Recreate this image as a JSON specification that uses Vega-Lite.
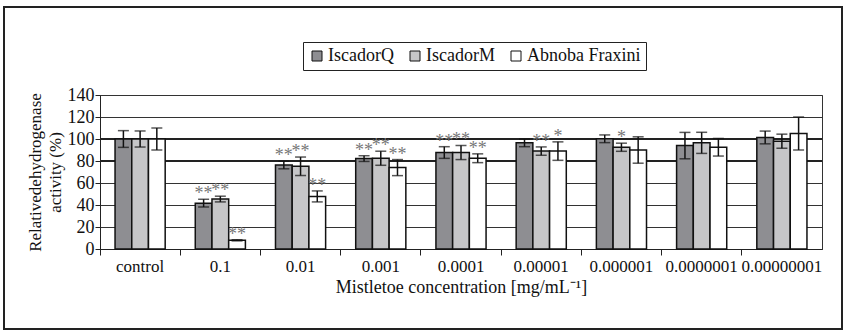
{
  "$schema": "https://vega.github.io/schema/vega-lite/v6.json",
  "width": 722,
  "height": 154,
  "autosize": "none",
  "padding": {"left": 100, "top": 95, "right": 23, "bottom": 85},
  "background": "white",
  "config": {
    "font": "Liberation Serif",
    "axis": {"labelFont": "Liberation Serif", "titleFont": "Liberation Serif"},
    "axisY": {
      "tickCount": 7, "labelOverlap": false,
      "titleFontSize": 17, "titleFontWeight": "normal", "titleColor": "#111", "titlePadding": 3,
      "titleLineHeight": 20,
      "labelFontSize": 18, "labelColor": "#111", "labelPadding": 1,
      "tickSize": 5, "tickColor": "#222", "domainColor": "#222",
      "grid": true, "gridColor": "#333", "gridWidth": 1.2
    },
    "legend": {"labelFont": "Liberation Serif"},
    "text": {"font": "Liberation Serif"},
    "view": {"stroke": "#333", "strokeWidth": 1}
  },
  "datasets": {
    "main": [
      {"conc": "control", "group": "IscadorQ", "value": 100, "lo": 92.4, "hi": 107.6, "sig": ""},
      {"conc": "control", "group": "IscadorM", "value": 100, "lo": 92.7, "hi": 107.3, "sig": ""},
      {"conc": "control", "group": "Abnoba Fraxini", "value": 100, "lo": 90, "hi": 110, "sig": ""},
      {"conc": "0.1", "group": "IscadorQ", "value": 41.7, "lo": 38.2, "hi": 45.2, "sig": "**"},
      {"conc": "0.1", "group": "IscadorM", "value": 45.4, "lo": 42.8, "hi": 48, "sig": "**"},
      {"conc": "0.1", "group": "Abnoba Fraxini", "value": 7.9, "lo": 7.4, "hi": 8.4, "sig": "**"},
      {"conc": "0.01", "group": "IscadorQ", "value": 76.4, "lo": 72.9, "hi": 79.9, "sig": "**"},
      {"conc": "0.01", "group": "IscadorM", "value": 75.2, "lo": 66.8, "hi": 83.6, "sig": "**"},
      {"conc": "0.01", "group": "Abnoba Fraxini", "value": 47.8, "lo": 42.8, "hi": 52.8, "sig": "**"},
      {"conc": "0.001", "group": "IscadorQ", "value": 82.2, "lo": 79.6, "hi": 84.8, "sig": "**"},
      {"conc": "0.001", "group": "IscadorM", "value": 82.5, "lo": 76.1, "hi": 88.9, "sig": "**"},
      {"conc": "0.001", "group": "Abnoba Fraxini", "value": 74, "lo": 66.7, "hi": 81.3, "sig": "**"},
      {"conc": "0.0001", "group": "IscadorQ", "value": 87.7, "lo": 82.4, "hi": 93, "sig": "**"},
      {"conc": "0.0001", "group": "IscadorM", "value": 87.7, "lo": 81.3, "hi": 94.1, "sig": "**"},
      {"conc": "0.0001", "group": "Abnoba Fraxini", "value": 82.5, "lo": 78.5, "hi": 86.5, "sig": "**"},
      {"conc": "0.00001", "group": "IscadorQ", "value": 96.5, "lo": 93, "hi": 100, "sig": ""},
      {"conc": "0.00001", "group": "IscadorM", "value": 89, "lo": 85.2, "hi": 92.8, "sig": "**"},
      {"conc": "0.00001", "group": "Abnoba Fraxini", "value": 89, "lo": 80.6, "hi": 97.4, "sig": "*"},
      {"conc": "0.000001", "group": "IscadorQ", "value": 100.2, "lo": 96.7, "hi": 103.7, "sig": ""},
      {"conc": "0.000001", "group": "IscadorM", "value": 92.5, "lo": 88.8, "hi": 96.2, "sig": "*"},
      {"conc": "0.000001", "group": "Abnoba Fraxini", "value": 90, "lo": 78, "hi": 102, "sig": ""},
      {"conc": "0.0000001", "group": "IscadorQ", "value": 94, "lo": 82, "hi": 106, "sig": ""},
      {"conc": "0.0000001", "group": "IscadorM", "value": 96.5, "lo": 86.9, "hi": 106.1, "sig": ""},
      {"conc": "0.0000001", "group": "Abnoba Fraxini", "value": 92.5, "lo": 84.5, "hi": 100.5, "sig": ""},
      {"conc": "0.00000001", "group": "IscadorQ", "value": 101.4, "lo": 95.6, "hi": 107.2, "sig": ""},
      {"conc": "0.00000001", "group": "IscadorM", "value": 98, "lo": 91.6, "hi": 104.4, "sig": ""},
      {"conc": "0.00000001", "group": "Abnoba Fraxini", "value": 105, "lo": 90, "hi": 120, "sig": ""}
    ],
    "refs": [{"ref": 80}, {"ref": 100}],
    "frame": [{"f": 1}]
  },
  "layer": [
    {
      "data": {"name": "refs"},
      "mark": {"type": "rule", "stroke": "#222", "strokeWidth": 2.2},
      "encoding": {"y": {"field": "ref", "type": "quantitative"}}
    },
    {
      "data": {"name": "main"},
      "encoding": {
        "x": {
          "field": "conc", "type": "nominal",
          "sort": ["control", "0.1", "0.01", "0.001", "0.0001", "0.00001", "0.000001", "0.0000001", "0.00000001"],
          "scale": {"paddingInner": 0, "paddingOuter": 0},
          "axis": {
            "labelAngle": 0, "labelFontSize": 17, "labelColor": "#111", "labelPadding": 3, "labelOverlap": false,
            "title": "Mistletoe concentration [mg/mL⁻¹]", "titleFontSize": 18, "titleFontWeight": "normal",
            "titleColor": "#111", "titlePadding": 4,
            "bandPosition": 0, "tickSize": 6, "tickColor": "#222", "domainColor": "#222", "grid": false
          }
        },
        "xOffset": {
          "field": "group", "type": "nominal",
          "sort": ["IscadorQ", "IscadorM", "Abnoba Fraxini"],
          "scale": {"paddingInner": 0, "paddingOuter": 0.9}
        }
      },
      "layer": [
        {
          "mark": {"type": "bar", "stroke": "#111", "strokeWidth": 1.5},
          "encoding": {
            "y": {
              "field": "value", "type": "quantitative",
              "scale": {"domain": [0, 140], "nice": false},
              "axis": {"title": ["Relativedehydrogenase", "activity (%)"]}
            },
            "fill": {
              "field": "group", "type": "nominal",
              "sort": ["IscadorQ", "IscadorM", "Abnoba Fraxini"],
              "scale": {"domain": ["IscadorQ", "IscadorM", "Abnoba Fraxini"], "range": ["#8e8e92", "#c6c6c8", "#ffffff"]},
              "legend": {
                "orient": "none", "legendX": 203, "legendY": -53, "direction": "horizontal",
                "title": null, "strokeColor": "#222", "padding": 5,
                "symbolType": "square", "symbolSize": 100, "symbolStrokeColor": "#111", "symbolStrokeWidth": 1,
                "labelFontSize": 18, "labelColor": "#111", "columnPadding": 12, "labelOffset": 2
              }
            }
          }
        },
        {
          "mark": {"type": "rule", "stroke": "#111", "strokeWidth": 1.5},
          "encoding": {
            "y": {"field": "lo", "type": "quantitative"},
            "y2": {"field": "hi"}
          }
        },
        {
          "mark": {"type": "tick", "color": "#111", "thickness": 1.5, "size": 11},
          "encoding": {"y": {"field": "lo", "type": "quantitative"}}
        },
        {
          "mark": {"type": "tick", "color": "#111", "thickness": 1.5, "size": 11},
          "encoding": {"y": {"field": "hi", "type": "quantitative"}}
        },
        {
          "mark": {"type": "text", "font": "Liberation Serif", "fontSize": 18, "fill": "#777", "baseline": "alphabetic", "dy": 0},
          "encoding": {
            "y": {"field": "hi", "type": "quantitative"},
            "text": {"field": "sig"}
          }
        }
      ]
    },
    {
      "data": {"name": "frame"},
      "mark": {"type": "rect", "fill": null, "stroke": "#222", "strokeWidth": 2, "clip": false},
      "encoding": {
        "x": {"value": -96},
        "x2": {"value": 742},
        "y": {"value": -88},
        "y2": {"value": 234}
      }
    }
  ]
}
